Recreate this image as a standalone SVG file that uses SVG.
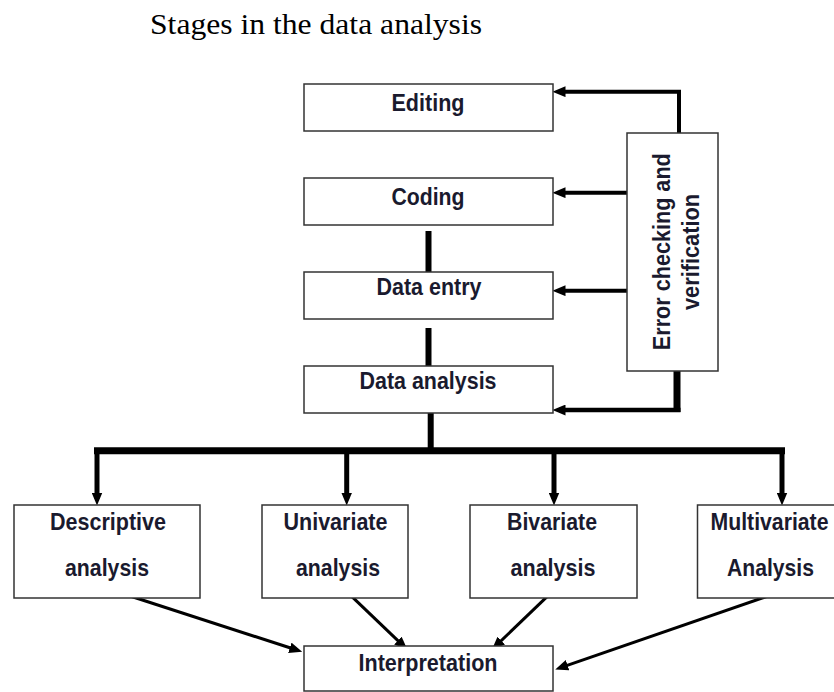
<svg xmlns="http://www.w3.org/2000/svg" width="834" height="692" viewBox="0 0 834 692">
<defs>
<marker id="ah" viewBox="0 0 12 10" refX="6" refY="5" markerWidth="13" markerHeight="11" markerUnits="userSpaceOnUse" orient="auto">
<path d="M0,0 L12,5 L0,10 z" fill="#000"/>
</marker>
<style>
.box{fill:#fff;stroke:#333;stroke-width:1.5}
.lbl{font-family:"Liberation Sans",Arial,sans-serif;font-weight:bold;font-size:24px;fill:#1a1a2e;text-anchor:middle}
.ln{fill:none;stroke:#000;stroke-linecap:butt}
</style>
</defs>
<rect width="834" height="692" fill="#fff"/>
<text x="150" y="34" font-family="Liberation Serif, 'Times New Roman', serif" font-size="29" fill="#000" textLength="332" lengthAdjust="spacingAndGlyphs">Stages in the data analysis</text>

<g id="connectors">
<line class="ln" x1="428.5" y1="231" x2="428.5" y2="272" stroke-width="6"/>
<line class="ln" x1="428.5" y1="328" x2="428.5" y2="366" stroke-width="6"/>
<line class="ln" x1="430.7" y1="413" x2="430.7" y2="452" stroke-width="6"/>
<line class="ln" x1="94" y1="450.7" x2="785" y2="450.7" stroke-width="7"/>
<line class="ln" x1="97" y1="450" x2="97" y2="499" stroke-width="5" marker-end="url(#ah)"/>
<line class="ln" x1="346.7" y1="450" x2="346.7" y2="499" stroke-width="5" marker-end="url(#ah)"/>
<line class="ln" x1="554" y1="450" x2="554" y2="499" stroke-width="5" marker-end="url(#ah)"/>
<line class="ln" x1="782" y1="450" x2="782" y2="499" stroke-width="5" marker-end="url(#ah)"/>
<path class="ln" d="M679,133 V91.7 H559" stroke-width="4" marker-end="url(#ah)"/>
<line class="ln" x1="635" y1="192.7" x2="559" y2="192.7" stroke-width="4" marker-end="url(#ah)"/>
<line class="ln" x1="635" y1="290.7" x2="559" y2="290.7" stroke-width="4" marker-end="url(#ah)"/>
<line class="ln" x1="677" y1="371" x2="677" y2="412" stroke-width="7"/>
<line class="ln" x1="680.5" y1="410" x2="559" y2="410" stroke-width="4.5" marker-end="url(#ah)"/>
<line class="ln" x1="120" y1="592.7" x2="296" y2="649.8" stroke-width="3" marker-end="url(#ah)"/>
<line class="ln" x1="346.7" y1="591.7" x2="402.6" y2="645.1" stroke-width="3" marker-end="url(#ah)"/>
<line class="ln" x1="552.3" y1="591.7" x2="496.6" y2="645.1" stroke-width="3" marker-end="url(#ah)"/>
<line class="ln" x1="780.7" y1="591.7" x2="561.4" y2="667.3" stroke-width="3" marker-end="url(#ah)"/>
</g>

<g id="editing"><rect class="box" x="304" y="84" width="249" height="47"/><text class="lbl" x="428" y="111" textLength="73" lengthAdjust="spacingAndGlyphs">Editing</text></g>
<g id="coding"><rect class="box" x="304" y="178" width="249" height="47"/><text class="lbl" x="428" y="205" textLength="73" lengthAdjust="spacingAndGlyphs">Coding</text></g>
<g id="data-entry"><rect class="box" x="304" y="272" width="249" height="47"/><text class="lbl" x="429" y="295" textLength="105" lengthAdjust="spacingAndGlyphs">Data entry</text></g>
<g id="data-analysis"><rect class="box" x="304" y="366" width="249" height="47"/><text class="lbl" x="428" y="389" textLength="137" lengthAdjust="spacingAndGlyphs">Data analysis</text></g>
<g id="error-checking"><rect class="box" x="627" y="133" width="91" height="238"/>
<text class="lbl" transform="translate(670,251.7) rotate(-90)" textLength="197" lengthAdjust="spacingAndGlyphs">Error checking and</text>
<text class="lbl" transform="translate(699,252) rotate(-90)" textLength="116" lengthAdjust="spacingAndGlyphs">verification</text></g>
<g id="descriptive"><rect class="box" x="14" y="505" width="186" height="93"/><text class="lbl" x="108" y="530" textLength="116" lengthAdjust="spacingAndGlyphs">Descriptive</text><text class="lbl" x="107" y="576" textLength="84" lengthAdjust="spacingAndGlyphs">analysis</text></g>
<g id="univariate"><rect class="box" x="262" y="505" width="146" height="93"/><text class="lbl" x="335.5" y="530" textLength="104" lengthAdjust="spacingAndGlyphs">Univariate</text><text class="lbl" x="338" y="576" textLength="84" lengthAdjust="spacingAndGlyphs">analysis</text></g>
<g id="bivariate"><rect class="box" x="470" y="505" width="167" height="93"/><text class="lbl" x="552" y="530" textLength="90" lengthAdjust="spacingAndGlyphs">Bivariate</text><text class="lbl" x="553" y="576" textLength="85" lengthAdjust="spacingAndGlyphs">analysis</text></g>
<g id="multivariate"><rect class="box" x="697.5" y="505" width="150" height="93"/><text class="lbl" x="769.5" y="530" textLength="118" lengthAdjust="spacingAndGlyphs">Multivariate</text><text class="lbl" x="770.5" y="576" textLength="87" lengthAdjust="spacingAndGlyphs">Analysis</text></g>
<g id="interpretation"><rect class="box" x="304" y="646" width="249" height="45"/><text class="lbl" x="428" y="670.5" textLength="139" lengthAdjust="spacingAndGlyphs">Interpretation</text></g>
</svg>
